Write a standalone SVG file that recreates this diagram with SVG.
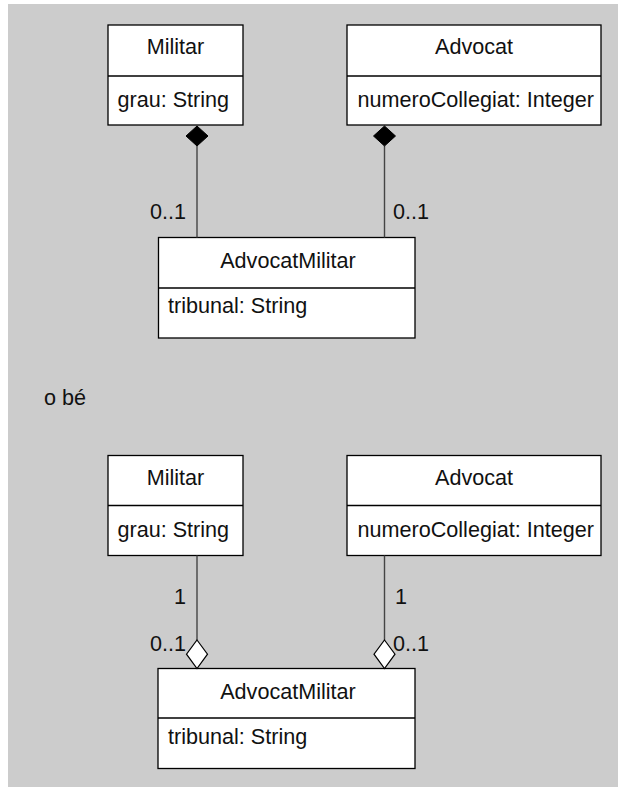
<svg xmlns="http://www.w3.org/2000/svg" width="618" height="787" viewBox="0 0 618 787">
  <style>
    .box { fill: #ffffff; stroke: #000000; stroke-width: 1.3; }
    .div { stroke: #000000; stroke-width: 1.3; }
    .txt { font-family: "Liberation Sans", Arial, sans-serif; font-size: 21.6px; fill: #111111; }
    .mid { text-anchor: middle; }
    .end { text-anchor: end; }
    .link { stroke: #444444; stroke-width: 1.4; fill: none; }
    .comp { fill: #000000; stroke: #000000; stroke-width: 1; }
    .aggr { fill: #ffffff; stroke: #000000; stroke-width: 1.2; }
  </style>

  <!-- background panel -->
  <rect x="8" y="4" width="610" height="783" fill="#cccccc"/>

  <!-- ===== composition version ===== -->
  <g id="militar1">
    <rect class="box" x="108" y="25" width="135" height="100"/>
    <line class="div" x1="108" y1="76" x2="243" y2="76"/>
    <text class="txt mid" x="175.5" y="54">Militar</text>
    <text class="txt" x="117.5" y="106.5">grau: String</text>
  </g>

  <g id="advocat1">
    <rect class="box" x="347" y="25" width="254" height="100"/>
    <line class="div" x1="347" y1="76" x2="601" y2="76"/>
    <text class="txt mid" x="474" y="54">Advocat</text>
    <text class="txt" x="357.5" y="106.5">numeroCollegiat: Integer</text>
  </g>

  <g id="advocatmilitar1">
    <rect class="box" x="158.5" y="237.5" width="256.5" height="100.5"/>
    <line class="div" x1="158.5" y1="288" x2="415" y2="288"/>
    <text class="txt mid" x="288" y="267.5">AdvocatMilitar</text>
    <text class="txt" x="168" y="313">tribunal: String</text>
  </g>

  <!-- ===== aggregation version ===== -->
  <text class="txt" x="44" y="405">o bé</text>

  <g id="militar2">
    <rect class="box" x="108" y="455.5" width="135" height="100"/>
    <line class="div" x1="108" y1="505.5" x2="243" y2="505.5"/>
    <text class="txt mid" x="175.5" y="484.5">Militar</text>
    <text class="txt" x="117.5" y="537">grau: String</text>
  </g>

  <g id="advocat2">
    <rect class="box" x="347" y="455.5" width="254" height="100"/>
    <line class="div" x1="347" y1="505.5" x2="601" y2="505.5"/>
    <text class="txt mid" x="474" y="484.5">Advocat</text>
    <text class="txt" x="357.5" y="537">numeroCollegiat: Integer</text>
  </g>

  <g id="advocatmilitar2">
    <rect class="box" x="158" y="668.5" width="257" height="100"/>
    <line class="div" x1="158" y1="718" x2="415" y2="718"/>
    <text class="txt mid" x="288" y="698.5">AdvocatMilitar</text>
    <text class="txt" x="168" y="744">tribunal: String</text>
  </g>

  <!-- connectors -->
  <g id="connectors">
    <!-- composition: Militar / Advocat own AdvocatMilitar -->
    <line class="link" x1="197" y1="146" x2="197" y2="237.5"/>
    <polygon class="comp" points="197,126 208,136 197,146 186,136"/>
    <text class="txt end" x="186" y="219">0..1</text>

    <line class="link" x1="384.5" y1="146" x2="384.5" y2="237.5"/>
    <polygon class="comp" points="384.5,126 395.5,136 384.5,146 373.5,136"/>
    <text class="txt" x="393" y="219">0..1</text>

    <!-- aggregation: AdvocatMilitar aggregates Militar / Advocat -->
    <line class="link" x1="197" y1="555.5" x2="197" y2="640"/>
    <polygon class="aggr" points="197,640 207.5,654.2 197,668.5 186.5,654.2"/>
    <text class="txt end" x="186" y="604">1</text>
    <text class="txt end" x="186" y="651">0..1</text>

    <line class="link" x1="384.5" y1="555.5" x2="384.5" y2="640"/>
    <polygon class="aggr" points="384.5,640 395,654.2 384.5,668.5 374,654.2"/>
    <text class="txt" x="395" y="604">1</text>
    <text class="txt" x="393" y="651">0..1</text>
  </g>
</svg>
